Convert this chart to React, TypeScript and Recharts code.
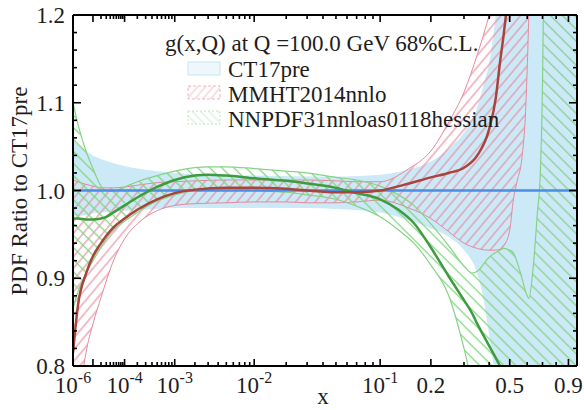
import React from "react";
import { ComposedChart, Area, Line, XAxis, YAxis } from "recharts";

const FONT = "'Liberation Serif', 'Times New Roman', serif";

// CT17pre: 68% C.L. band (ratio to itself, so the central value is 1)
const ctX = [1e-6, 2e-6, 5e-6, 1e-5, 2e-5, 5e-5, 1e-4, 2e-4, 5e-4, 1e-3, 3e-3, 1e-2, 3e-2, 0.05, 0.1, 0.15, 0.2, 0.25, 0.3, 0.35, 0.38, 0.4, 0.42, 0.43, 0.46, 0.5, 0.6, 0.7, 0.8, 0.9, 1.0];
const ctHigh = [1.057, 1.052, 1.045, 1.04, 1.036, 1.031, 1.028, 1.025, 1.022, 1.02, 1.018, 1.017, 1.016, 1.016, 1.018, 1.024, 1.033, 1.048, 1.066, 1.095, 1.125, 1.145, 1.18, 1.2, 1.28, 1.4, 1.6, 1.8, 1.9, 2.0, 2.0];
const ctLow = [0.97, 0.971, 0.972, 0.974, 0.975, 0.976, 0.977, 0.978, 0.979, 0.98, 0.98, 0.98, 0.98, 0.979, 0.975, 0.966, 0.957, 0.947, 0.932, 0.905, 0.87, 0.835, 0.8, 0.78, 0.72, 0.6, 0.5, 0.4, 0.4, 0.4, 0.4];
const ctLineX = [1e-6, 1.0];
const ctLine = [1.0, 1.0];

// MMHT2014nnlo / CT17pre
const mmX = [1e-6, 2e-6, 5e-6, 1e-5, 2e-5, 5e-5, 1e-4, 2e-4, 5e-4, 1e-3, 2e-3, 5e-3, 1e-2, 2e-2, 3e-2, 5e-2, 7e-2, 0.1, 0.15, 0.2, 0.25, 0.3, 0.35, 0.4, 0.43, 0.45, 0.47, 0.5, 0.52, 0.54, 0.57, 0.59, 0.61, 0.63, 0.7];
const mmLow = [0.68, 0.75, 0.815, 0.848, 0.878, 0.92, 0.945, 0.962, 0.977, 0.983, 0.985, 0.986, 0.987, 0.987, 0.986, 0.986, 0.987, 0.989, 0.98, 0.968, 0.953, 0.94, 0.934, 0.932, 0.932, 0.933, 0.937, 0.955, 0.99, 1.01, 1.04, 1.09, 1.2, 1.35, 1.6];
const mmHigh = [1.012, 1.01, 1.007, 1.005, 1.003, 1.003, 1.004, 1.006, 1.009, 1.01, 1.011, 1.012, 1.012, 1.012, 1.012, 1.011, 1.01, 1.01, 1.025, 1.045, 1.078, 1.112, 1.155, 1.2, 1.23, 1.26, 1.3, 1.36, 1.4, 1.45, 1.5, 1.55, 1.6, 1.65, 1.7];
const mmMid = [0.815, 0.87, 0.905, 0.925, 0.94, 0.958, 0.968, 0.978, 0.99, 0.997, 1.001, 1.003, 1.003, 1.002, 1.0, 0.998, 0.998, 1.0, 1.008, 1.015, 1.02, 1.026, 1.04, 1.07, 1.105, 1.145, 1.18, 1.24, 1.28, 1.32, 1.38, 1.42, 1.46, 1.5, 1.6];

// NNPDF31nnloas0118hessian / CT17pre
const nnX = [1e-6, 2e-6, 5e-6, 1e-5, 2e-5, 3e-5, 5e-5, 1e-4, 2e-4, 5e-4, 1e-3, 2e-3, 3e-3, 5e-3, 1e-2, 2e-2, 3e-2, 5e-2, 7e-2, 0.1, 0.13, 0.16, 0.2, 0.25, 0.3, 0.33, 0.35, 0.4, 0.45, 0.47, 0.5, 0.52, 0.56, 0.6, 0.61, 0.64, 0.665, 0.685, 0.7, 0.71, 0.75, 0.85, 1.0];
const nnHigh = [1.1, 1.075, 1.045, 1.025, 1.005, 1.0, 0.999, 1.004, 1.01, 1.017, 1.022, 1.026, 1.027, 1.027, 1.025, 1.022, 1.02, 1.015, 1.012, 1.005, 0.995, 0.983, 0.962, 0.937, 0.914, 0.906, 0.908, 0.924, 0.932, 0.934, 0.932, 0.929, 0.906, 0.88, 0.877, 0.917, 0.974, 1.02, 1.12, 1.25, 1.4, 1.6, 1.8];
const nnLow = [0.865, 0.885, 0.905, 0.92, 0.935, 0.945, 0.955, 0.965, 0.975, 0.988, 0.995, 1.0, 1.001, 1.002, 1.0, 0.998, 0.995, 0.99, 0.982, 0.97, 0.955, 0.94, 0.915, 0.88, 0.82, 0.78, 0.76, 0.7, 0.65, 0.6, 0.6, 0.6, 0.6, 0.6, 0.6, 0.6, 0.6, 0.6, 0.6, 0.6, 0.6, 0.6, 0.6];
const nnMid = [0.968, 0.968, 0.967, 0.967, 0.968, 0.97, 0.975, 0.983, 0.992, 1.004, 1.012, 1.017, 1.018, 1.017, 1.014, 1.011, 1.008, 1.003, 0.997, 0.99, 0.978, 0.963, 0.935, 0.902, 0.875, 0.86, 0.848, 0.823, 0.8, 0.79, 0.775, 0.765, 0.75, 0.74, 0.74, 0.74, 0.74, 0.74, 0.74, 0.74, 0.74, 0.74, 0.74];

// axis ticks
const xLabelTicks = [1e-6, 1e-4, 1e-3, 1e-2, 0.1, 0.2, 0.5, 0.9];
const xLabelBase = ["10", "10", "10", "10", "10", "0.2", "0.5", "0.9"];
const xLabelExp = ["-6", "-4", "-3", "-2", "-1", "", "", ""];
const xPlainMajor = [1e-5];
const xMinor = [
  2e-5, 3e-5, 4e-5, 5e-5, 6e-5, 7e-5, 8e-5, 9e-5,
  2e-4, 3e-4, 4e-4, 5e-4, 6e-4, 7e-4, 8e-4, 9e-4,
  2e-3, 3e-3, 4e-3, 5e-3, 6e-3, 7e-3, 8e-3, 9e-3,
  2e-2, 3e-2, 4e-2, 5e-2, 6e-2, 7e-2, 8e-2, 9e-2,
  0.3, 0.4, 0.6, 0.7, 0.8,
];
const yMajor = [0.8, 0.9, 1.0, 1.1, 1.2];
const yMinor = [0.82, 0.84, 0.86, 0.88, 0.92, 0.94, 0.96, 0.98, 1.02, 1.04, 1.06, 1.08, 1.12, 1.14, 1.16, 1.18];

const legendTitle = "g(x,Q) at Q =100.0 GeV 68%C.L.";
const legendNames = ["CT17pre", "MMHT2014nnlo", "NNPDF31nnloas0118hessian"];

// the x axis is linear in x^0.2
const toU = (x: number) => Math.pow(x, 0.2);
const X_MIN = 1e-6;
const X_MAX = 0.975;

const bandData = (xs: number[], lo: number[], hi: number[]) =>
  xs.map((x, i) => ({ u: toU(x), band: [lo[i], hi[i]] }));
const lineData = (xs: number[], ys: number[]) => xs.map((x, i) => ({ u: toU(x), v: ys[i] }));

const ctBand = bandData(ctX, ctLow, ctHigh);
const ctCentral = lineData(ctLineX, ctLine);
const mmBand = bandData(mmX, mmLow, mmHigh);
const mmCentral = lineData(mmX, mmMid);
const nnBand = bandData(nnX, nnLow, nnHigh);
const nnCentral = lineData(nnX, nnMid);

type TickInfo = { major: boolean; base?: string; exp?: string };
const xInfo = new Map<number, TickInfo>();
xLabelTicks.forEach((x, i) => xInfo.set(toU(x), { major: true, base: xLabelBase[i], exp: xLabelExp[i] }));
xPlainMajor.forEach((x) => xInfo.set(toU(x), { major: true }));
xMinor.forEach((x) => xInfo.set(toU(x), { major: false }));
const xTicks = Array.from(xInfo.keys()).sort((a, b) => a - b);
const yTicks = [...yMajor, ...yMinor].sort((a, b) => a - b);
const isYMajor = (v: number) => yMajor.some((m) => Math.abs(m - v) < 1e-9);

const TEXT = "#1e1e1e";
const BLUE_FILL = "#cbe9f7";
const BLUE_LINE = "#4a8ee6";
const PINK = "#e8899b";
const RED = "#a8433e";
const GREEN = "#88d288";
const DARK_GREEN = "#3f9b40";

function BottomTick(props: any) {
  const { x, y, payload } = props;
  const info = xInfo.get(payload.value);
  const len = info && info.major ? 7 : 4;
  return (
    <g>
      <line x1={x} y1={y} x2={x} y2={y - len} stroke="#000" strokeWidth={1.6} />
      {info && info.base ? (
        <text x={x} y={y + 27} textAnchor="middle" fontFamily={FONT} fontSize={23} fill={TEXT}>
          {info.base}
          {info.exp ? (
            <tspan dy={-10} fontSize={16}>
              {info.exp}
            </tspan>
          ) : null}
        </text>
      ) : null}
    </g>
  );
}

function TopTick(props: any) {
  const { x, y, payload } = props;
  const info = xInfo.get(payload.value);
  const len = info && info.major ? 7 : 4;
  return <line x1={x} y1={y} x2={x} y2={y + len} stroke="#000" strokeWidth={1.6} />;
}

function LeftTick(props: any) {
  const { x, y, payload } = props;
  const major = isYMajor(payload.value);
  return (
    <g>
      <line x1={x} y1={y} x2={x + (major ? 8 : 4)} y2={y} stroke="#000" strokeWidth={1.6} />
      {major ? (
        <text x={x - 8} y={y + 8} textAnchor="end" fontFamily={FONT} fontSize={23} fill={TEXT}>
          {payload.value.toFixed(1)}
        </text>
      ) : null}
    </g>
  );
}

function RightTick(props: any) {
  const { x, y, payload } = props;
  const major = isYMajor(payload.value);
  return <line x1={x} y1={y} x2={x - (major ? 8 : 4)} y2={y} stroke="#000" strokeWidth={1.6} />;
}

// legend and axis titles sit on top of the plot
function Overlay() {
  const rows = [77, 102, 127];
  return (
    <svg
      width={584}
      height={410}
      style={{ position: "absolute", left: 0, top: 0, pointerEvents: "none" }}
    >
      <defs>
        <pattern id="hatchPinkLight" width="6" height="6" patternUnits="userSpaceOnUse" patternTransform="rotate(40)">
          <line x1="3" y1="0" x2="3" y2="6" stroke="#f2c0ca" strokeWidth="1" />
        </pattern>
        <pattern id="hatchGreenLight" width="6" height="6" patternUnits="userSpaceOnUse" patternTransform="rotate(-45)">
          <line x1="3" y1="0" x2="3" y2="6" stroke="#cdeccd" strokeWidth="1" />
        </pattern>
      </defs>
      <text x={165} y={51} fontFamily={FONT} fontSize={23} fill={TEXT}>
        {legendTitle}
      </text>
      <rect x={188} y={62} width={32} height={13} fill="#eef8fc" stroke="#c5e6f4" strokeWidth={1} />
      <rect x={188} y={86} width={32} height={13} fill="url(#hatchPinkLight)" stroke="#f0b5c0" strokeWidth={1} strokeDasharray="3 2" />
      <rect x={188} y={111} width={32} height={13} fill="url(#hatchGreenLight)" stroke="#bfe6bf" strokeWidth={1} strokeDasharray="2 2" />
      {legendNames.map((name, i) => (
        <text key={name} x={228} y={rows[i]} fontFamily={FONT} fontSize={23} fill={TEXT}>
          {name}
        </text>
      ))}
      <text x={323} y={404} textAnchor="middle" fontFamily={FONT} fontSize={23} fill={TEXT}>
        x
      </text>
      <text x={27} y={191} textAnchor="middle" transform="rotate(-90, 27, 191)" fontFamily={FONT} fontSize={23} fill={TEXT}>
        PDF Ratio to CT17pre
      </text>
    </svg>
  );
}

export default function App() {
  const domain: [number, number] = [toU(X_MIN), toU(X_MAX)];
  return (
    <div style={{ position: "absolute", left: 0, top: 0, width: 584, height: 410, background: "#fff" }}>
      <ComposedChart width={584} height={410} margin={{ top: 0, right: 0, bottom: 0, left: 0 }}>
        <defs>
          <pattern id="hatchPink" width="7.5" height="7.5" patternUnits="userSpaceOnUse" patternTransform="rotate(40)">
            <line x1="3.75" y1="0" x2="3.75" y2="7.5" stroke={PINK} strokeWidth="1.1" />
          </pattern>
          <pattern id="hatchGreen" width="8.5" height="8.5" patternUnits="userSpaceOnUse" patternTransform="rotate(-45)">
            <line x1="4.25" y1="0" x2="4.25" y2="8.5" stroke={GREEN} strokeWidth="1.3" />
          </pattern>
        </defs>
        <XAxis
          xAxisId="b"
          type="number"
          dataKey="u"
          domain={domain}
          allowDataOverflow
          ticks={xTicks}
          interval={0}
          height={44}
          tickSize={0}
          tickMargin={0}
          tick={(p: any) => <BottomTick {...p} />}
          axisLine={{ stroke: "#000", strokeWidth: 2 }}
          tickLine={false}
        />
        <XAxis
          xAxisId="t"
          orientation="top"
          type="number"
          dataKey="u"
          domain={domain}
          allowDataOverflow
          ticks={xTicks}
          interval={0}
          height={15}
          tickSize={0}
          tickMargin={0}
          tick={(p: any) => <TopTick {...p} />}
          axisLine={{ stroke: "#000", strokeWidth: 2 }}
          tickLine={false}
        />
        <YAxis
          yAxisId="l"
          type="number"
          domain={[0.8, 1.2]}
          allowDataOverflow
          ticks={yTicks}
          interval={0}
          width={73}
          tickSize={0}
          tickMargin={0}
          tick={(p: any) => <LeftTick {...p} />}
          axisLine={{ stroke: "#000", strokeWidth: 2 }}
          tickLine={false}
        />
        <YAxis
          yAxisId="r"
          orientation="right"
          type="number"
          domain={[0.8, 1.2]}
          allowDataOverflow
          ticks={yTicks}
          interval={0}
          width={7}
          tickSize={0}
          tickMargin={0}
          tick={(p: any) => <RightTick {...p} />}
          axisLine={{ stroke: "#000", strokeWidth: 2 }}
          tickLine={false}
        />
        <Area
          xAxisId="b"
          yAxisId="l"
          data={ctBand}
          dataKey="band"
          type="monotone"
          fill={BLUE_FILL}
          fillOpacity={1}
          stroke="none"
          isAnimationActive={false}
          dot={false}
          activeDot={false}
        />
        <Area
          xAxisId="b"
          yAxisId="l"
          data={mmBand}
          dataKey="band"
          type="monotone"
          fill="url(#hatchPink)"
          fillOpacity={1}
          stroke={PINK}
          strokeWidth={1}
          isAnimationActive={false}
          dot={false}
          activeDot={false}
        />
        <Area
          xAxisId="b"
          yAxisId="l"
          data={nnBand}
          dataKey="band"
          type="monotone"
          fill="url(#hatchGreen)"
          fillOpacity={1}
          stroke={GREEN}
          strokeWidth={1.2}
          isAnimationActive={false}
          dot={false}
          activeDot={false}
        />
        <Line
          xAxisId="b"
          yAxisId="l"
          data={ctCentral}
          dataKey="v"
          type="linear"
          stroke={BLUE_LINE}
          strokeWidth={2.5}
          dot={false}
          activeDot={false}
          isAnimationActive={false}
        />
        <Line
          xAxisId="b"
          yAxisId="l"
          data={nnCentral}
          dataKey="v"
          type="monotone"
          stroke={DARK_GREEN}
          strokeWidth={2.5}
          dot={false}
          activeDot={false}
          isAnimationActive={false}
        />
        <Line
          xAxisId="b"
          yAxisId="l"
          data={mmCentral}
          dataKey="v"
          type="monotone"
          stroke={RED}
          strokeWidth={2.5}
          dot={false}
          activeDot={false}
          isAnimationActive={false}
        />
      </ComposedChart>
      <Overlay />
    </div>
  );
}
